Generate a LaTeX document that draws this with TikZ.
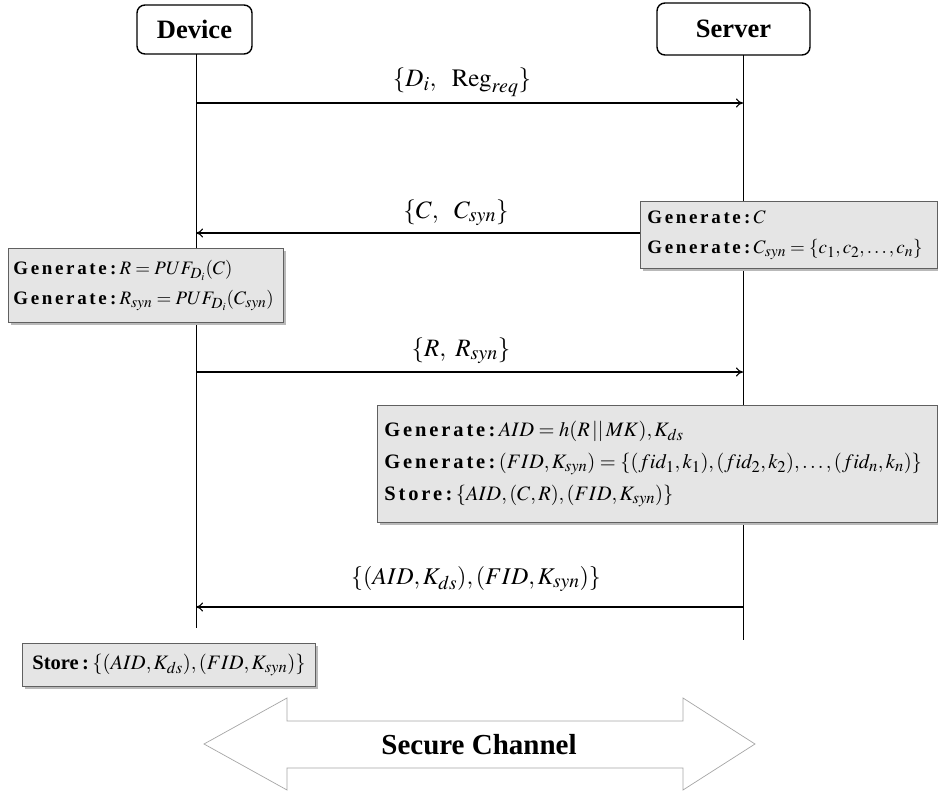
\documentclass[tikz,border=0pt]{standalone}
\usepackage{amsmath}
\usepackage{mathptmx}
\usepackage[no-math]{fontspec}
\setmainfont{Liberation Serif}
\newfontfamily\spacedbf[LetterSpace=14]{Liberation Serif}
\usetikzlibrary{arrows.meta,shadows}
\DeclareMathSizes{25}{25}{20}{15}
\DeclareMathSizes{24}{24}{19.5}{14}
\DeclareMathSizes{19}{19}{15.5}{11}
\DeclareMathSizes{18}{18}{15}{11}
\DeclareMathSizes{19.5}{19.5}{16}{11}
\DeclareMathSizes{20.5}{20.5}{16.5}{12}
\newcommand{\gen}{{\spacedbf\bfseries Generate\,:\,}}
\newcommand{\sto}{{\spacedbf\bfseries Store\,:\,}}
\begin{document}
\begin{tikzpicture}[x=1pt,y=-1pt,
  actor/.style={draw,line width=1.4pt,rounded corners=8pt,font=\fontsize{26.5}{28}\selectfont\bfseries,inner sep=0pt},
  life/.style={line width=1pt},
  msg/.style={line width=1.1pt,-{To[length=7pt,width=9pt]}},
  lbl/.style={font=\fontsize{25}{27}\selectfont,anchor=base},
  gbox/.style={draw=gray!75!black,line width=0.8pt,fill=gray!20,
    drop shadow={shadow xshift=2.5pt,shadow yshift=-2.5pt,fill=gray!55,opacity=1},
    anchor=north west,inner xsep=7pt,inner ysep=0pt,align=left,font=\fontsize{19}{32}\selectfont},
  chan/.style={draw=gray!70,line width=0.7pt,fill=white},
  chantext/.style={font=\fontsize{29}{31}\selectfont\bfseries}
]
\useasboundingbox (0,0) rectangle (938,795);

% actors
\node[actor,minimum width=115pt,minimum height=49pt] (dev) at (194.5,29.5) {Device};
\node[actor,minimum width=153pt,minimum height=52pt] (srv) at (733.5,29) {Server};

% lifelines
\coordinate (dtop) at (196,54);
\coordinate (dbot) at (196,628);
\coordinate (stop) at (743,55);
\coordinate (sbot) at (743,640);
\draw[life] (dtop) -- (dbot);
\draw[life] (stop) -- (sbot);

% boxes
\node[gbox,text width=283pt,minimum height=67pt] (sb1) at (640,201)
  {\gen$C$\\[-2pt]\gen$C_{syn}=\{c_1,c_2,\dots,c_n\}$};
\node[gbox,inner xsep=5pt,text width=265pt,minimum height=74pt,font=\fontsize{19}{32}\selectfont] (db1) at (8,248)
  {\gen$R=PUF_{D_i}(C)$\\[-2pt]\gen$R_{syn}=PUF_{D_i}(C_{syn})$};
\node[gbox,text width=546pt,minimum height=117pt,font=\fontsize{20.5}{32}\selectfont] (sb2) at (377,405)
  {\gen$AID=h(R\,||\,MK),K_{ds}$\\
   \gen$(FID,K_{syn})=\{(fid_1,k_1),(fid_2,k_2),\dots,(fid_n,k_n)\}$\\
   \sto$\{AID,(C,R),(FID,K_{syn})\}$};
\node[gbox,inner xsep=10pt,text width=273pt,minimum height=43pt,font=\fontsize{20.5}{22}\selectfont] (db2) at (22,643)
  {{\bfseries Store\,:\,}$\{(AID,K_{ds}),(FID,K_{syn})\}$};

% messages
\coordinate (m1s) at (196,103);
\coordinate (m1e) at (743,103);
\draw[msg] (m1s) -- (m1e);
\node[lbl] (l1) at (462,86) {$\{D_i,\ \ \mathrm{Reg}_{req}\}$};

\coordinate (m2e) at (196,233);
\draw[msg] (sb1.west |- m2e) -- (m2e);
\node[lbl] (l2) at (456,218) {$\{C,\ \ C_{syn}\}$};

\coordinate (m3s) at (196,372);
\coordinate (m3e) at (743,372);
\draw[msg] (m3s) -- (m3e);
\node[lbl] (l3) at (461,356) {$\{R,\ R_{syn}\}$};

\coordinate (m4s) at (743,607);
\coordinate (m4e) at (196,607);
\draw[msg] (m4s) -- (m4e);
\node[lbl,font=\fontsize{24}{26}\selectfont] (l4) at (476,584) {$\{(AID,K_{ds}),(FID,K_{syn})\}$};

% secure channel
\draw[chan] (204,744) -- (287,698) -- (287,721) -- (683,721) -- (683,698) -- (755,744)
  -- (683,790) -- (683,768) -- (287,768) -- (287,790) -- cycle;
\node[chantext] (ch) at (479,745) {Secure Channel};
\end{tikzpicture}
\end{document}
